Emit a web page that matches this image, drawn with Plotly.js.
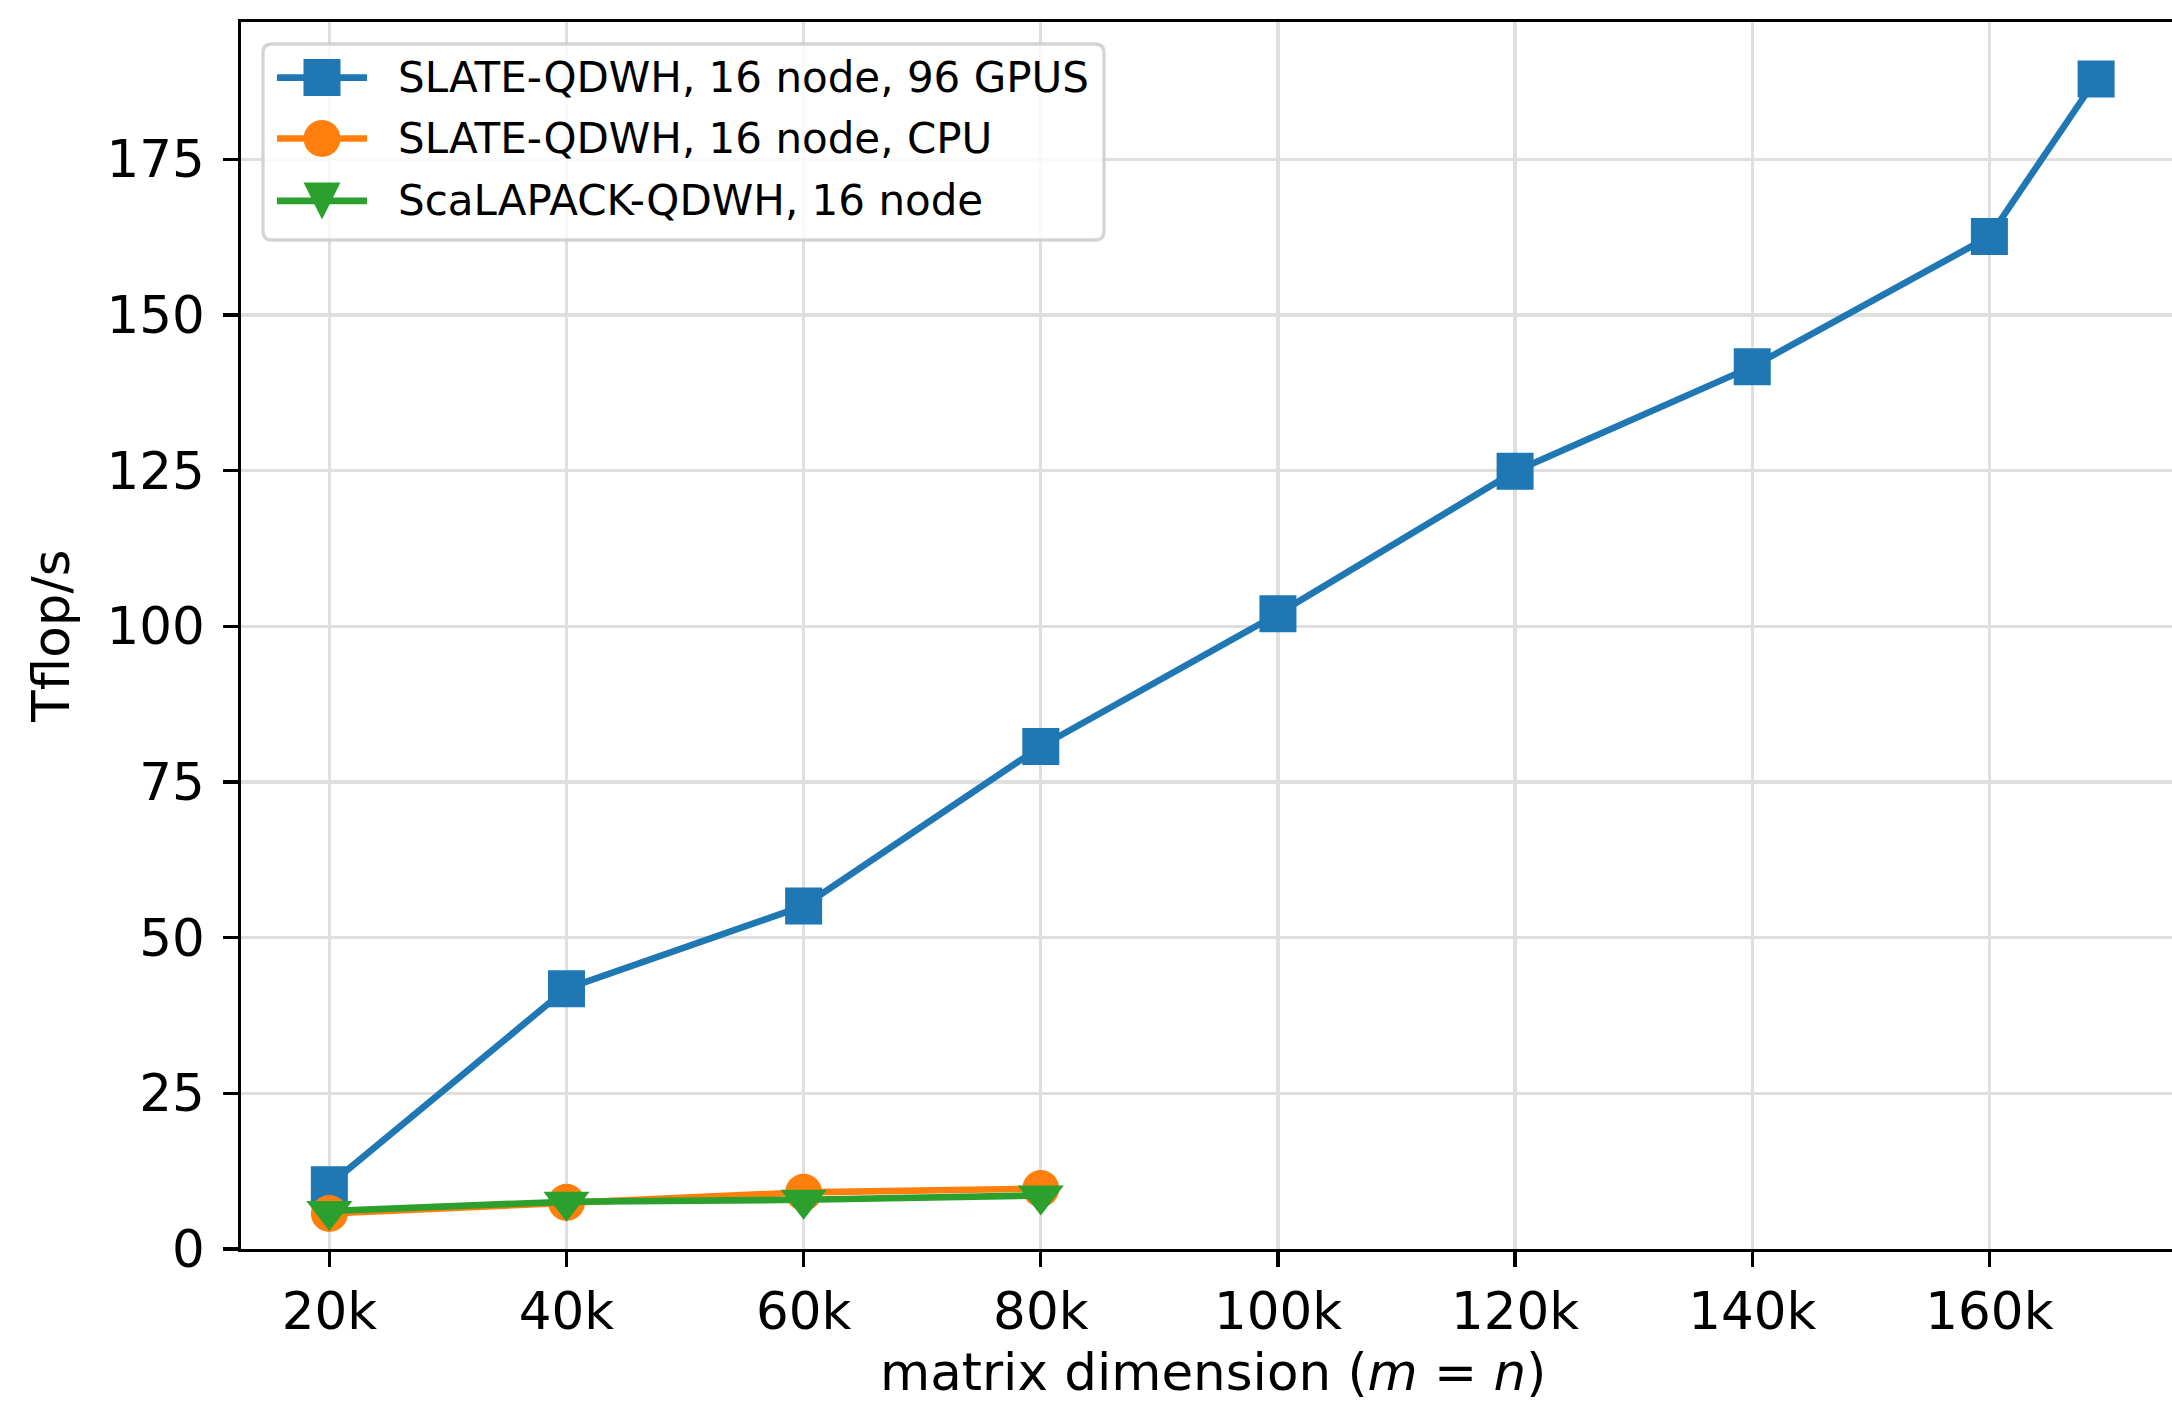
<!DOCTYPE html>
<html>
<head>
<meta charset="utf-8">
<script src="https://cdn.plot.ly/plotly-3.0.1.min.js"></script>
<style>
  html, body { margin: 0; padding: 0; background: #ffffff; }
  #chart { width: 2172px; height: 1402px; }
</style>
</head>
<body>
<div id="chart"></div>
<script>
// ---- data ----
const seriesNames = [
  "SLATE-QDWH, 16 node, 96 GPUS",
  "SLATE-QDWH, 16 node, CPU",
  "ScaLAPACK-QDWH, 16 node"
];
const gpuSizes = [20000, 40000, 60000, 80000, 100000, 120000, 140000, 160000, 169000];
const gpuTflops = [10.3, 41.8, 55.1, 80.7, 102.0, 124.9, 141.7, 162.6, 187.9];
const cpuSizes = [20000, 40000, 60000, 80000];
const cpuTflops = [5.7, 7.5, 9.1, 9.7];
const scalapackSizes = [20000, 40000, 60000, 80000];
const scalapackTflops = [6.1, 7.6, 7.9, 8.6];
const xTickVals = [20000, 40000, 60000, 80000, 100000, 120000, 140000, 160000];
const xTickLabels = ["20k", "40k", "60k", "80k", "100k", "120k", "140k", "160k"];
const yTickVals = [0, 25, 50, 75, 100, 125, 150, 175];
const yTickLabels = ["0", "25", "50", "75", "100", "125", "150", "175"];
const xTitle = "matrix dimension (<i>m</i> = <i>n</i>)";
const yTitle = "Tflop/s";

// ---- styles ----
const colors = ["#1f77b4", "#ff7f0e", "#2ca02c"];
const symbols = ["square", "circle", "triangle-down"];
const markerSizes = [37, 37, 40];
const FONT = "DejaVu Sans, Liberation Sans, sans-serif";
const LW = 6.6;
const LABEL_SIZE = 51.5;
const LEGEND_SIZE = 42;

const xs = [gpuSizes, cpuSizes, scalapackSizes];
const ys = [gpuTflops, cpuTflops, scalapackTflops];

const traces = seriesNames.map((name, i) => ({
  type: "scatter",
  mode: "lines+markers",
  name: name,
  x: xs[i],
  y: ys[i],
  line: { color: colors[i], width: LW },
  marker: { color: colors[i], symbol: symbols[i], size: markerSizes[i], line: { width: 0 } },
  showlegend: false,
  cliponaxis: false
}));

// ---- geometry of the plot area (pixels) ----
const L = 241, T = 22, B = 153, W = 2172, H = 1402;
const plotW = W - L, plotH = H - T - B;
const px = v => (v - L) / plotW;
const py = v => (H - B - v) / plotH;

// custom legend (matplotlib-like handles)
const box = { x0: 263, x1: 1104, y0: 44, y1: 240, r: 9 };
function roundRectPath(b) {
  const rx = b.r / plotW, ry = b.r / plotH;
  const X0 = px(b.x0), X1 = px(b.x1), Yt = py(b.y0), Yb = py(b.y1);
  return `M${X0 + rx},${Yt} L${X1 - rx},${Yt} Q${X1},${Yt} ${X1},${Yt - ry} ` +
         `L${X1},${Yb + ry} Q${X1},${Yb} ${X1 - rx},${Yb} L${X0 + rx},${Yb} ` +
         `Q${X0},${Yb} ${X0},${Yb + ry} L${X0},${Yt - ry} Q${X0},${Yt} ${X0 + rx},${Yt} Z`;
}
const rowY = [77.6, 138.5, 200.9];
const handleX0 = 277, handleX1 = 367, handleXc = 322, textX = 396;

const shapes = [{
  type: "path", xref: "paper", yref: "paper", path: roundRectPath(box),
  fillcolor: "rgba(255,255,255,0.8)", line: { color: "rgba(204,204,204,0.85)", width: 3.3 },
  layer: "above"
}];
const annotations = [];
seriesNames.forEach((name, i) => {
  const yc = py(rowY[i]);
  shapes.push({
    type: "line", xref: "paper", yref: "paper",
    x0: px(handleX0), x1: px(handleX1), y0: yc, y1: yc,
    line: { color: colors[i], width: LW }, layer: "above"
  });
  const h = 18.5;
  if (i === 0) {
    shapes.push({ type: "rect", xref: "paper", yref: "paper", xsizemode: "pixel", ysizemode: "pixel",
      xanchor: px(handleXc), yanchor: yc, x0: -h, x1: h, y0: -h, y1: h,
      fillcolor: colors[i], line: { width: 0 }, layer: "above" });
  } else if (i === 1) {
    shapes.push({ type: "circle", xref: "paper", yref: "paper", xsizemode: "pixel", ysizemode: "pixel",
      xanchor: px(handleXc), yanchor: yc, x0: -h, x1: h, y0: -h, y1: h,
      fillcolor: colors[i], line: { width: 0 }, layer: "above" });
  } else {
    shapes.push({ type: "path", xref: "paper", yref: "paper", xsizemode: "pixel", ysizemode: "pixel",
      xanchor: px(handleXc), yanchor: yc,
      path: `M${-h},${h} L${h},${h} L0,${-h} Z`,
      fillcolor: colors[i], line: { width: 0 }, layer: "above" });
  }
  annotations.push({
    xref: "paper", yref: "paper", x: px(textX), y: yc,
    xanchor: "left", yanchor: "middle", showarrow: false,
    text: name, font: { family: FONT, size: LEGEND_SIZE, color: "#000000" }
  });
});

// x-axis title (centred on the full matplotlib axis, which runs slightly past the image edge)
annotations.push({
  xref: "paper", yref: "paper", x: px(1212.5), y: py(1372),
  xanchor: "center", yanchor: "middle", showarrow: false,
  text: xTitle, font: { family: FONT, size: LABEL_SIZE, color: "#000000" }
});

const axisCommon = {
  showline: true, linecolor: "#000000", linewidth: 3.3,
  ticks: "outside", ticklen: 14.6, tickwidth: 3.3, tickcolor: "#000000",
  showgrid: true, gridcolor: "#dfdfdf", gridwidth: 3.3,
  zeroline: false, automargin: false,
  tickfont: { family: FONT, size: LABEL_SIZE, color: "#000000" }
};

const layout = {
  width: W, height: H,
  margin: { l: L, r: 0, t: T, b: B, pad: 0 },
  paper_bgcolor: "#ffffff", plot_bgcolor: "#ffffff",
  font: { family: FONT, color: "#000000" },
  showlegend: false,
  xaxis: Object.assign({}, axisCommon, {
    range: [12550, 175400], tickmode: "array", tickvals: xTickVals, ticktext: xTickLabels,
    mirror: true
  }),
  yaxis: Object.assign({}, axisCommon, {
    range: [0, 197.05], tickmode: "array", tickvals: yTickVals, ticktext: yTickLabels,
    mirror: false, ticklabelstandoff: 8,
    title: { text: yTitle, font: { family: FONT, size: LABEL_SIZE, color: "#000000" }, standoff: 21 }
  }),
  shapes: shapes,
  annotations: annotations
};

Plotly.newPlot("chart", traces, layout, { staticPlot: true, displayModeBar: false });
</script>
</body>
</html>
